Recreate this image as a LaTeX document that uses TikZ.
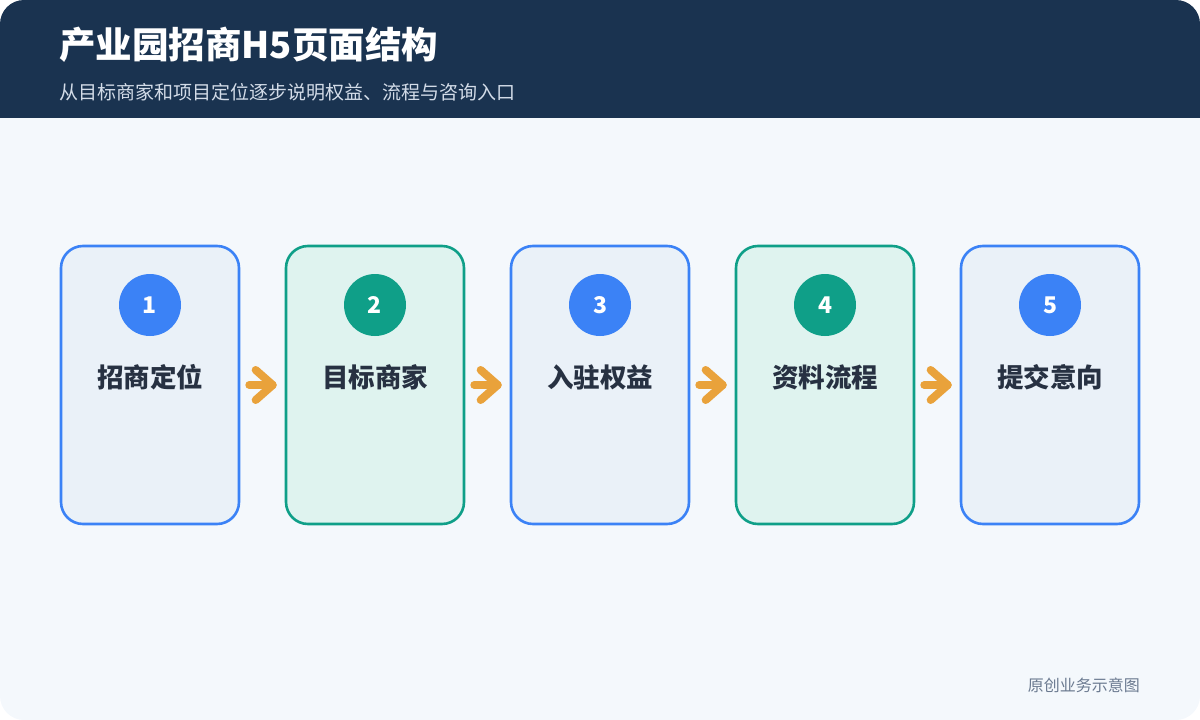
\documentclass[tikz,border=0pt]{standalone}
\usepackage{fontspec}
\setmainfont{Noto Sans CJK SC}
\usetikzlibrary{calc}
\definecolor{pagebg}{HTML}{F4F8FC}
\definecolor{hdr}{HTML}{1A3350}
\definecolor{subt}{HTML}{D3DCE8}
\definecolor{bluel}{HTML}{3B82F6}
\definecolor{bluef}{HTML}{EAF1F8}
\definecolor{teall}{HTML}{0F9F88}
\definecolor{tealf}{HTML}{DFF3EF}
\definecolor{arrc}{HTML}{E9A23B}
\definecolor{txt}{HTML}{273142}
\definecolor{foot}{HTML}{6B7A90}
\tikzset{
  card/.style={draw=#1, line width=2.6pt, rounded corners=22pt, minimum width=178pt, minimum height=278pt, inner sep=0pt},
  badge/.style={circle, fill=#1, minimum size=62pt, inner sep=0pt, text=white, font=\fontsize{23}{26}\selectfont\bfseries},
  lbl/.style={text=txt, font=\fontsize{26.5}{30}\selectfont\bfseries, inner sep=0pt},
  arrowline/.style={draw=arrc, line width=8pt, line cap=round, line join=round}
}
\begin{document}
\begin{tikzpicture}[x=1pt,y=-1pt]
\useasboundingbox (0,0) rectangle (1200,720);
\begin{scope}
\clip[rounded corners=24pt] (0,0) rectangle (1200,720);
\fill[pagebg] (0,0) rectangle (1200,720);
\fill[hdr] (0,0) rectangle (1200,118);
\end{scope}
\node[anchor=west, text=white, font=\fontsize{36.5}{40}\selectfont\bfseries, inner sep=0pt] (title) at (59,45) {产业园招商H5页面结构};
\node[anchor=west, text=subt, font=\fontsize{19}{22}\selectfont, inner sep=0pt] (sub) at (59,92) {从目标商家和项目定位逐步说明权益、流程与咨询入口};
\foreach \i/\t/\c/\f in {1/招商定位/bluel/bluef, 2/目标商家/teall/tealf, 3/入驻权益/bluel/bluef, 4/资料流程/teall/tealf, 5/提交意向/bluel/bluef}{
  \node[card=\c, fill=\f] (b\i) at ({150+225*(\i-1)},385) {};
  \node[badge=\c] (n\i) at ({150+225*(\i-1)},305) {\i};
  \node[lbl] (t\i) at ({150+225*(\i-1)},377) {\t};
}
\foreach \a/\b in {1/2,2/3,3/4,4/5}{
  \draw[arrowline] ($(b\a.east)+(9,0)$) -- ($(b\b.west)+(-12,0)$);
  \draw[arrowline] ($(b\b.west)+(-29,-15)$) -- ($(b\b.west)+(-12,0)$) -- ($(b\b.west)+(-29,15)$);
}
\node[anchor=east, text=foot, font=\fontsize{16}{18}\selectfont, inner sep=0pt] (ft) at (1140,685) {原创业务示意图};
\end{tikzpicture}
\end{document}
